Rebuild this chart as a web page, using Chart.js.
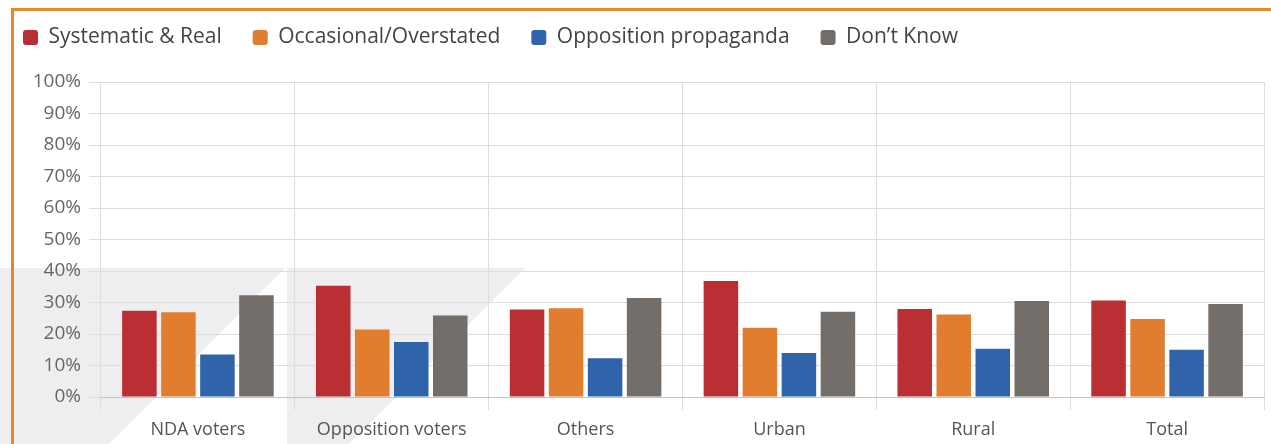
<!DOCTYPE html>
<html>
<head>
<meta charset="utf-8">
<script src="https://cdn.jsdelivr.net/npm/chart.js@4"></script>
<style>
  html, body { margin: 0; padding: 0; width: 1271px; height: 444px; overflow: hidden; background: #ffffff; }
  #deco { position: absolute; left: 0; top: 0; width: 1271px; height: 444px; z-index: 0; }
  #wrap { position: absolute; left: -8px; top: -4px; width: 1290px; height: 470px; z-index: 1; }
  #frame { position: absolute; left: 11px; top: 8px; width: 1400px; height: 600px;
           border-top: 3px solid #E8862B; border-left: 3px solid #E8862B; z-index: 2; pointer-events: none; }
</style>
</head>
<body>
<svg id="deco" width="1271" height="444">
  <polygon points="0,268 285,268 109,444 0,444" fill="#EEEEF1"/>
  <polygon points="287,268 525,268 349,444 287,444" fill="#EEEEF1"/>
</svg>
<div id="wrap"><canvas id="c"></canvas></div>
<div id="frame"></div>
<script>
const categories = ["NDA voters", "Opposition voters", "Others", "Urban", "Rural", "Total"];
const seriesNames = ["Systematic & Real", "Occasional/Overstated", "Opposition propaganda", "Don\u2019t Know"];
const systematicReal = [27.4, 35.3, 27.8, 36.8, 27.9, 30.6];
const occasionalOverstated = [26.9, 21.4, 28.2, 22.0, 26.2, 24.8];
const oppositionPropaganda = [13.5, 17.5, 12.3, 14.0, 15.3, 15.0];
const dontKnow = [32.3, 25.9, 31.4, 27.1, 30.5, 29.5];
const yTicks = [0, 10, 20, 30, 40, 50, 60, 70, 80, 90, 100];
const colors = ["#B92F34", "#E17D2E", "#3064AA", "#736E69"];

const values = [systematicReal, occasionalOverstated, oppositionPropaganda, dontKnow];

const legendSpacer = {
  id: 'legendSpacer',
  beforeInit(chart) {
    const origFit = chart.legend.fit;
    chart.legend.fit = function () {
      origFit.call(this);
      this.height = 86;
    };
  }
};

new Chart(document.getElementById('c'), {
  type: 'bar',
  data: {
    labels: categories,
    datasets: seriesNames.map((name, i) => ({
      label: name,
      data: values[i],
      backgroundColor: colors[i],
      borderWidth: 0,
      categoryPercentage: 0.805,
      barPercentage: 0.885
    }))
  },
  options: {
    responsive: true,
    maintainAspectRatio: false,
    animation: false,
    layout: { padding: { left: 0, right: 18, top: 0, bottom: 27 } },
    plugins: {
      tooltip: { enabled: false },
      legend: {
        position: 'top',
        align: 'start',
        labels: {
          boxWidth: 15,
          boxHeight: 15,
          useBorderRadius: true,
          borderRadius: 3,
          padding: 31,
          color: '#444444',
          font: { family: "'Open Sans', sans-serif", size: 21 }
        }
      }
    },
    scales: {
      x: {
        afterFit(scale) { scale.height = 42; },
        grid: { color: '#DDDDDD', lineWidth: 1, offset: true, drawTicks: true, tickLength: 13 },
        border: { color: '#C4C4C4', width: 1 },
        ticks: { color: '#555555', padding: 9, font: { family: "'Open Sans', sans-serif", size: 18 } }
      },
      y: {
        min: 0,
        max: 100,
        afterFit(scale) { scale.width = 109; },
        afterBuildTicks(scale) { scale.ticks = yTicks.map(v => ({ value: v })); },
        grid: { color: '#DDDDDD', lineWidth: 1, drawTicks: true, tickLength: 12 },
        border: { display: false },
        ticks: {
          color: '#666666',
          padding: 8,
          font: { family: "'Open Sans', sans-serif", size: 19 },
          callback: (v) => v + '%'
        }
      }
    }
  },
  plugins: [legendSpacer]
});
</script>
</body>
</html>
